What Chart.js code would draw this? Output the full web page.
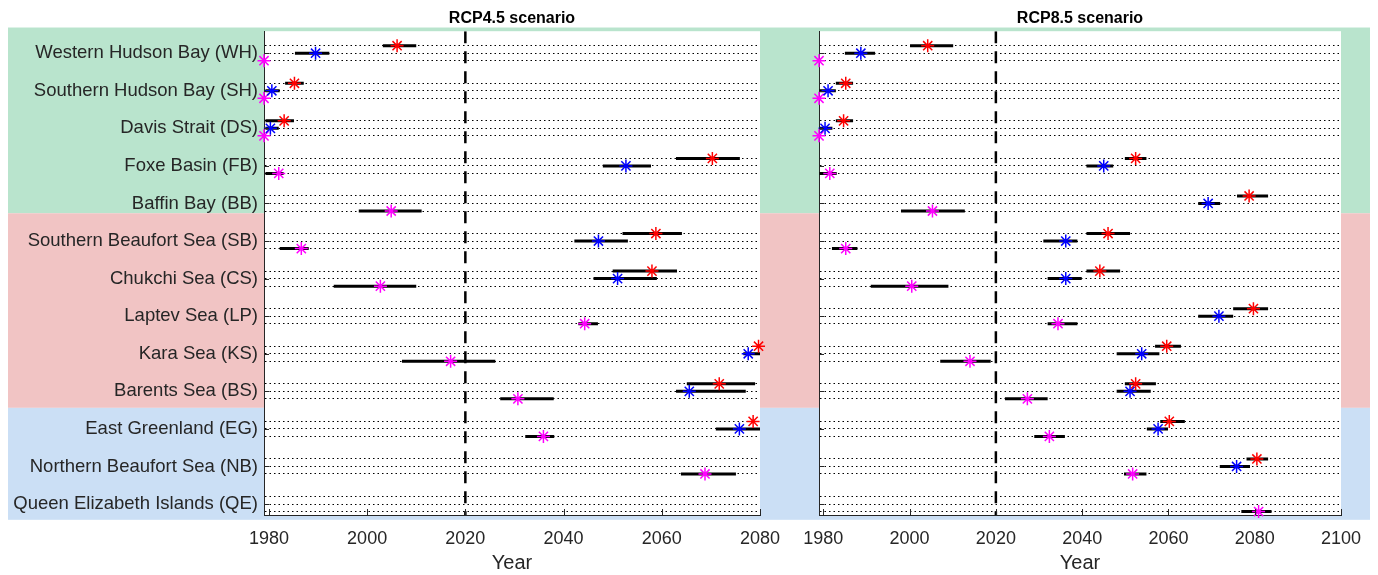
<!DOCTYPE html>
<html>
<head>
<meta charset="utf-8">
<script src="https://cdn.jsdelivr.net/npm/chart.js@4.4.1/dist/chart.umd.min.js"></script>
<style>
  html, body { margin: 0; padding: 0; background: #fff; }
  #wrap { position: relative; width: 1378px; height: 575px; }
  canvas { position: absolute; left: 0; top: 0; }
</style>
</head>
<body>
<div id="wrap">
  <canvas id="rcp45" width="1378" height="575"></canvas>
  <canvas id="rcp85" width="1378" height="575"></canvas>
</div>
<script>
const regions = [
  'Western Hudson Bay (WH)', 'Southern Hudson Bay (SH)', 'Davis Strait (DS)',
  'Foxe Basin (FB)', 'Baffin Bay (BB)', 'Southern Beaufort Sea (SB)',
  'Chukchi Sea (CS)', 'Laptev Sea (LP)', 'Kara Sea (KS)', 'Barents Sea (BS)',
  'East Greenland (EG)', 'Northern Beaufort Sea (NB)', 'Queen Elizabeth Islands (QE)'
];

// [low, year, high] per region, null = not reached in the period
const rcp45Red = [
  [2003.2, 2006.1, 2010.0], [1983.3, 1985.2, 1987.1], [1979.3, 1983.1, 1985.1],
  [2062.9, 2070.3, 2075.9], null, [2052.0, 2058.8, 2064.1],
  [2050.0, 2058.0, 2063.1], null, [null, 2079.7, null],
  [2065.1, 2071.7, 2079.0], [null, 2078.6, null], null, null
];
const rcp45Blue = [
  [1985.3, 1989.5, 1992.3], [1979.3, 1980.6, 1982.2], [1979.3, 1980.3, 1982.0],
  [2048.0, 2052.7, 2057.8], null, [2042.2, 2047.1, 2053.1],
  [2046.1, 2051.0, 2059.0], null, [2076.6, 2077.6, 2080.0],
  [2062.9, 2065.6, 2077.1], [2071.0, 2075.8, 2080.0], null, null
];
const rcp45Magenta = [
  [null, 1979, null], [null, 1979, null], [null, 1979, null],
  [1979.3, 1982.0, 1983.0], [1998.3, 2004.9, 2011.1], [1982.2, 1986.6, 1988.1],
  [1993.2, 2002.7, 2010.0], [2043.0, 2044.3, 2047.0], [2007.1, 2017.0, 2026.1],
  [2027.1, 2030.7, 2038.0], [2032.2, 2035.9, 2038.1], [2063.9, 2068.8, 2075.1], null
];

const rcp85Red = [
  [2000.1, 2004.2, 2010.1], [1982.9, 1985.2, 1986.9], [1982.9, 1984.7, 1986.9],
  [2049.9, 2052.4, 2054.9], [2075.9, 2078.7, 2083.1], [2041.0, 2046.0, 2051.1],
  [2041.0, 2044.1, 2048.8], [2075.0, 2079.7, 2083.1], [2056.9, 2059.6, 2062.9],
  [2049.9, 2052.4, 2057.1], [2058.1, 2060.2, 2063.8], [2078.1, 2080.5, 2083.1], null
];
const rcp85Blue = [
  [1985.0, 1988.7, 1992.0], [1979.1, 1981.1, 1982.9], [1979.1, 1980.4, 1982.1],
  [2041.0, 2045.0, 2047.2], [2066.9, 2069.2, 2072.0], [2031.0, 2036.2, 2038.9],
  [2032.0, 2036.2, 2039.9], [2066.9, 2071.7, 2075.0], [2048.0, 2053.8, 2057.9],
  [2048.0, 2051.1, 2055.9], [2055.0, 2057.6, 2059.9], [2071.9, 2075.8, 2078.9], null
];
const rcp85Magenta = [
  [null, 1979, null], [null, 1979, null], [null, 1979, null],
  [1979.1, 1981.5, 1983.1], [1998.0, 2005.3, 2012.8], [1982.0, 1985.2, 1987.9],
  [1991.0, 2000.5, 2009.0], [2032.0, 2034.4, 2038.9], [2007.1, 2014.0, 2018.8],
  [2022.1, 2027.3, 2032.0], [2028.9, 2032.4, 2036.0], [2049.7, 2051.7, 2054.9],
  [2076.9, 2080.9, 2083.9]
];

const xTicks45 = [1980, 2000, 2020, 2040, 2060, 2080];
const xTicks85 = [1980, 2000, 2020, 2040, 2060, 2080, 2100];
const refYear = 2020;

const INK = '#262626';
const ROW_STEP = 5;   // 3 rows per region + gap
const Y_MIN = -2.93, Y_MAX = 61.46;

Chart.defaults.font.family = "'Liberation Sans', Arial, Helvetica, sans-serif";
Chart.defaults.color = INK;

const rowY = (i, k) => i * ROW_STEP + k;
const rowTicks = [];
regions.forEach((r, i) => { rowTicks.push(rowY(i, -1), rowY(i, 0), rowY(i, 1)); });

function starPoints(series, k) {
  const pts = [];
  series.forEach((v, i) => { if (v && v[1] != null) pts.push({ x: v[1], y: rowY(i, k) }); });
  return pts;
}

// one line dataset, segments split by null points
function barPoints(list) {
  const pts = [];
  list.forEach((series, k) => {
    series.forEach((v, i) => {
      if (v && v[0] != null && v[2] != null) {
        const y = rowY(i, k - 1);
        pts.push({ x: v[0], y }, { x: v[2], y }, { x: v[2], y: null });
      }
    });
  });
  return pts;
}

function star(series, color, k) {
  return {
    data: starPoints(series, k), pointStyle: 'star', pointRadius: 6.5,
    borderColor: color, backgroundColor: color, borderWidth: 1.5, pointBorderWidth: 1.5, clip: false
  };
}

const panelPlugin = {
  id: 'panel',
  beforeDraw(chart, args, opts) {
    const { ctx, chartArea: a, scales: { y } } = chart;
    ctx.save();
    (opts.bands || []).forEach(b => {
      const t = y.getPixelForValue(b.from), btm = y.getPixelForValue(b.to);
      ctx.fillStyle = b.color;
      ctx.fillRect(8, t, chart.width - 16, btm - t);
    });
    ctx.fillStyle = '#fff';
    ctx.fillRect(a.left, a.top, a.right - a.left, a.bottom - a.top);
    ctx.restore();
  },
  afterDatasetsDraw(chart) {
    const { ctx, chartArea: a, scales: { x, y } } = chart;
    ctx.save();
    ctx.strokeStyle = INK;
    ctx.lineWidth = 1;
    ctx.beginPath();
    x.ticks.forEach(t => {
      const px = Math.round(x.getPixelForValue(t.value)) + 0.5;
      ctx.moveTo(px, a.bottom); ctx.lineTo(px, a.bottom - 6);
    });
    regions.forEach((r, i) => {
      const py = Math.round(y.getPixelForValue(rowY(i, 0))) + 0.5;
      ctx.moveTo(a.left, py); ctx.lineTo(a.left + 5, py);
    });
    ctx.stroke();
    ctx.restore();
  }
};

function panel(id, title, red, blue, magenta, xMax, xTicks, pad, showLabels, bands) {
  return new Chart(document.getElementById(id), {
    type: 'scatter',
    data: {
      datasets: [
        star(red, '#ff0000', -1),
        star(blue, '#0000ff', 0),
        star(magenta, '#ff00ff', 1),
        {
          type: 'line', data: barPoints([red, blue, magenta]), borderColor: '#000',
          borderWidth: 3, pointRadius: 0, spanGaps: false, borderCapStyle: 'butt'
        },
        {
          type: 'line', data: [{ x: refYear, y: Y_MIN }, { x: refYear, y: Y_MAX }],
          borderColor: '#000', borderWidth: 2.5, borderDash: [12, 8], pointRadius: 0
        }
      ]
    },
    options: {
      responsive: false, animation: false, devicePixelRatio: 1,
      layout: { padding: pad },
      plugins: {
        legend: { display: false },
        tooltip: { enabled: false },
        title: {
          display: true, text: title, fullSize: false, color: '#000',
          font: { size: 16, weight: 'bold' }, padding: { top: 9, bottom: 3 }
        },
        panel: { bands }
      },
      scales: {
        x: {
          type: 'linear', min: 1979, max: xMax,
          afterBuildTicks: s => { s.ticks = xTicks.map(v => ({ value: v })); },
          afterFit: s => { s.height = 60; },
          grid: { display: false },
          border: { display: true, color: INK, width: 1 },
          ticks: { callback: v => String(v), font: { size: 18 }, color: INK, padding: 5, maxRotation: 0, autoSkip: false },
          title: { display: true, text: 'Year', font: { size: 20 }, color: INK, padding: { top: 0, bottom: 0 } }
        },
        y: {
          type: 'linear', reverse: true, min: Y_MIN, max: Y_MAX,
          afterBuildTicks: s => { s.ticks = rowTicks.map(v => ({ value: v })); },
          afterFit: s => { s.width = showLabels ? 256 : 10; },
          grid: { display: true, color: '#000', lineWidth: 1, drawTicks: false },
          border: { display: true, color: INK, width: 1, dash: [1.5, 3] },
          ticks: {
            display: showLabels, autoSkip: false, padding: 6, font: { size: 18.5 }, color: INK,
            callback: v => (v % ROW_STEP === 0 ? regions[v / ROW_STEP] : '')
          }
        }
      }
    },
    plugins: [panelPlugin]
  });
}

const bands = [
  { from: -3.42, to: 21.3, color: '#b9e4cd' },
  { from: 21.3, to: 47.2, color: '#f1c4c4' },
  { from: 47.2, to: 62.1, color: '#cbdff5' }
];

panel('rcp45', 'RCP4.5 scenario', rcp45Red, rcp45Blue, rcp45Magenta, 2080, xTicks45,
  { left: 8, right: 618, top: 0, bottom: 0 }, true, bands);
panel('rcp85', 'RCP8.5 scenario', rcp85Red, rcp85Blue, rcp85Magenta, 2100, xTicks85,
  { left: 809, right: 37, top: 0, bottom: 0 }, false, null);
</script>
</body>
</html>
